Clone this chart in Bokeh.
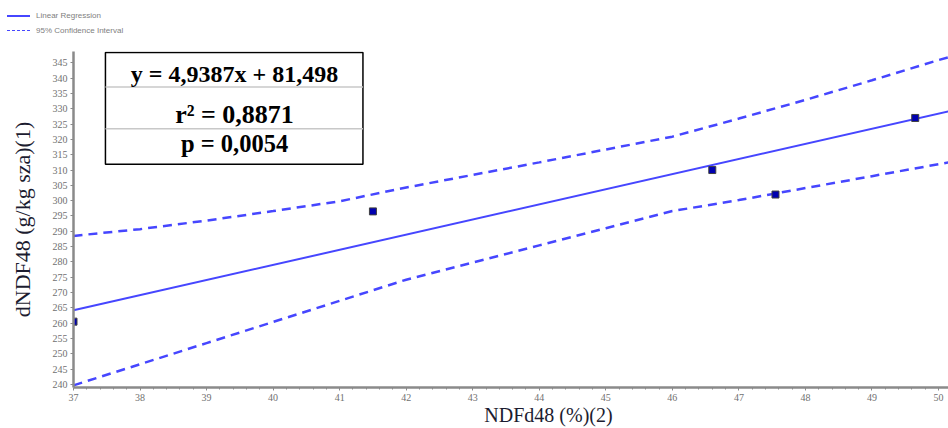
from bokeh.plotting import figure
from bokeh.models import Range1d, FixedTicker, Div
from bokeh.layouts import column
from bokeh.core.properties import value
from bokeh.embed import file_html
from bokeh.resources import INLINE

# ---- data ----
pt_x = [37.0, 41.5, 46.6, 47.55, 49.65]
pt_y = [260.5, 296.5, 310.0, 302.0, 327.0]

fit_x = [37.0, 50.2]
fit_y = [264.2, 329.4]

ci_x = [37, 38, 39, 40, 41, 42, 43, 44, 45, 46, 47, 48, 49, 50, 50.2]
ci_upper = [288.5, 290.7, 293.5, 296.6, 299.8, 304.3, 308.4, 312.5, 316.7, 320.9, 326.8, 332.9, 339.3, 345.9, 347.1]
ci_lower = [239.7, 246.6, 253.5, 260.4, 267.3, 274.2, 279.8, 285.4, 291.0, 296.6, 300.2, 304.1, 308.0, 311.9, 312.7]

x_ticks = [37, 38, 39, 40, 41, 42, 43, 44, 45, 46, 47, 48, 49, 50]
y_ticks = list(range(240, 350, 5))

stats_lines = ["y = 4,9387x + 81,498", "r² = 0,8871", "p = 0,0054"]

x_title = "NDFd48 (%)(2)"
y_title = "dNDF48 (g/kg sza)(1)"
legend_labels = ["Linear Regression", "95% Confidence Interval"]

LINE = "#4646ff"
W = 948
LEG_H = 40
MAIN_H = 388

# ---- legend strip (top-left of the page) ----
leg_html = f"""
<div style="position:relative;width:220px;height:{LEG_H}px;font-family:'Liberation Sans',Arial,sans-serif;font-size:8px;color:#808080;">
  <div style="position:absolute;left:7px;top:15px;width:23px;height:1.5px;background:{LINE};"></div>
  <div style="position:absolute;left:36px;top:11px;line-height:9px;white-space:nowrap;">{legend_labels[0]}</div>
  <div style="position:absolute;left:7px;top:30px;width:23px;height:0;border-top:1.5px dashed {LINE};"></div>
  <div style="position:absolute;left:36px;top:26px;line-height:9px;white-space:nowrap;">{legend_labels[1]}</div>
</div>
"""
leg = Div(text=leg_html, width=W, height=LEG_H, margin=(0, 0, 0, 0))

# ---- main plot ----
p = figure(width=W, height=MAIN_H, output_backend="svg", toolbar_location=None,
           x_range=Range1d(37, 50.15), y_range=Range1d(239.0, 348.7),
           min_border_left=73, min_border_right=0, min_border_top=11, min_border_bottom=40)
p.outline_line_color = None
p.grid.visible = False
p.background_fill_color = "white"

for ax in (p.xaxis[0], p.yaxis[0]):
    ax.axis_line_color = "#8a8a8a"
    ax.axis_line_width = 2.5
    ax.major_tick_line_color = "#8a8a8a"
    ax.minor_tick_line_color = "#8a8a8a"
    ax.major_tick_in = 0
    ax.major_tick_out = 3
    ax.minor_tick_in = 0
    ax.minor_tick_out = 2
    ax.major_label_text_font = "Liberation Sans Narrow"
    ax.major_label_text_font_size = "10px"
    ax.major_label_text_color = "#707070"
    ax.major_label_standoff = 3
    ax.axis_label_text_font = "Liberation Serif"
    ax.axis_label_text_font_style = "normal"
    ax.axis_label_text_color = "#1c1c30"

p.xaxis.ticker = FixedTicker(ticks=x_ticks,
                             minor_ticks=[t + f for t in x_ticks[:-1] for f in (0.2, 0.4, 0.6, 0.8)])
p.yaxis.ticker = FixedTicker(ticks=y_ticks, minor_ticks=[])
# leading no-break spaces nudge the centred x title right, as in the reference
p.xaxis.axis_label = "\u00a0" * 15 + x_title
p.yaxis.axis_label = y_title
p.xaxis.axis_label_text_font_size = "20px"
p.yaxis.axis_label_text_font_size = "22px"
p.xaxis.axis_label_standoff = 0
p.yaxis.axis_label_standoff = 15

# confidence band & regression
p.line(ci_x, ci_upper, line_color=LINE, line_width=2.5, line_dash="9 6")
p.line(ci_x, ci_lower, line_color=LINE, line_width=2.5, line_dash="9 6")
p.line(fit_x, fit_y, line_color=LINE, line_width=2)
p.scatter(pt_x, pt_y, marker="square", size=7, fill_color="#0000b0", line_color="#404040", line_width=1)

# statistics box
bx0, bx1, by0, by1 = 37.48, 41.35, 311.9, 348.4
div_y = [337.1, 323.5]
p.quad(left=bx0, right=bx1, bottom=by0, top=by1, fill_color="white", line_color="black", line_width=1.5)
p.segment(x0=[bx0, bx0], x1=[bx1, bx1], y0=div_y, y1=div_y, line_color="#c8c8c8", line_width=1.5)
cx = 39.42
row_y = [341.2, 328.0, 318.5]
row_size = ["24px", "26px", "24.5px"]
for t, yy, fs in zip(stats_lines, row_y, row_size):
    p.text(x=[cx], y=[yy], text=[t], text_align="center", text_baseline="middle",
           text_font=value("Liberation Serif"), text_font_style="bold",
           text_font_size=fs, text_color="black")

layout = column(leg, p, spacing=0)
open("out.html", "w").write(file_html(layout, INLINE))
